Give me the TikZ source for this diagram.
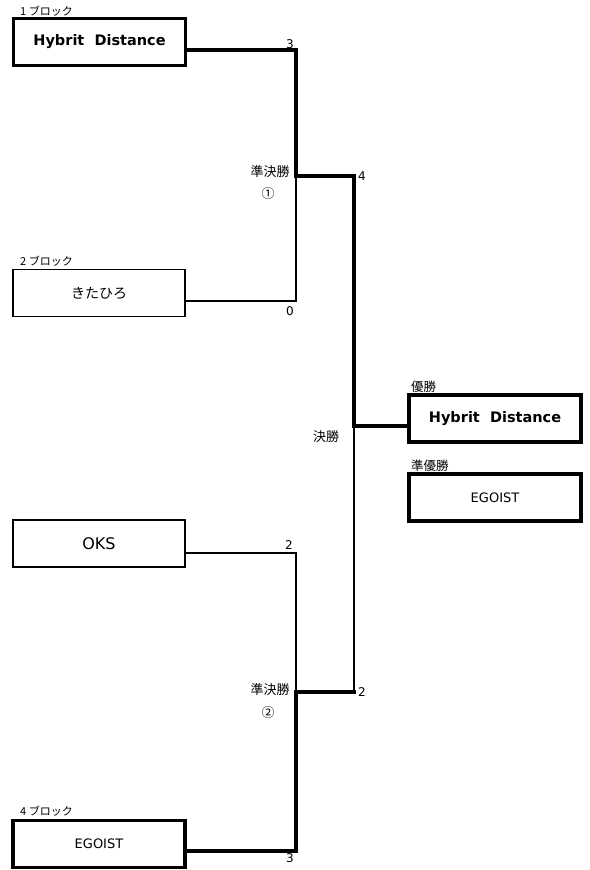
\documentclass[tikz,border=0pt]{standalone}
\usepackage{fontspec}
\setmainfont{DejaVu Sans}
\newfontfamily\jp{Noto Sans CJK JP}
\usetikzlibrary{calc}
\tikzset{
  team/.style={draw, minimum width=172pt, minimum height=47pt, inner sep=0pt, fill=white},
  teamthick/.style={team, line width=3.5pt},
  teamthin/.style={team, line width=1.6pt},
  heavy/.style={line width=3.5pt, line cap=rect},
  light/.style={line width=1.6pt, line cap=rect},
  blocklbl/.style={anchor=south west, inner sep=0pt, font=\jp\fontsize{11}{12}\selectfont},
  roundlbl/.style={inner sep=0pt, font=\jp\fontsize{13}{14}\selectfont},
  score/.style={inner sep=0pt, font=\fontsize{12}{13}\selectfont},
}
\begin{document}
\begin{tikzpicture}[x=1pt,y=-1pt]
\useasboundingbox (0,0) rectangle (589,870);
% junction coordinates
\coordinate (s1) at (296,176);
\coordinate (j1) at (354,176);
\coordinate (f) at (354,426);
\coordinate (s2) at (296,692);
\coordinate (j2) at (354,692);
% teams
\node[teamthick, font=\bfseries\fontsize{14.5}{16}\selectfont] (b1) at (99.5,42) {Hybrit\ \ Distance};
\node[teamthin, font=\jp\fontsize{14}{16}\selectfont] (b2) at (99,293) {きたひろ};
\node[teamthin, font=\fontsize{16}{18}\selectfont] (b3) at (99,543.5) {OKS};
\node[teamthick, font=\fontsize{13}{15}\selectfont] (b4) at (99,844) {EGOIST};
\node[teamthick, font=\bfseries\fontsize{14.5}{16}\selectfont] (win) at (495,418.5) {Hybrit\ \ Distance};
\node[teamthick, font=\fontsize{13}{15}\selectfont] (run) at (495,497.5) {EGOIST};
% block labels
\node[blocklbl] (l1) at (20,17) {1 ブロック};
\node[blocklbl] (l2) at (20,267) {2 ブロック};
\node[blocklbl] (l4) at (20,817) {4 ブロック};
\node[blocklbl, font=\jp\fontsize{12.5}{13}\selectfont] (lw) at (411,393) {優勝};
\node[blocklbl, font=\jp\fontsize{12.5}{13}\selectfont] (lr) at (411,472) {準優勝};
% round labels
\node[roundlbl] (sf1) at (270,172) {準決勝};
\node[roundlbl] (c1) at (268,194) {①};
\node[roundlbl] (sf2) at (270,690) {準決勝};
\node[roundlbl] (c2) at (268,713) {②};
\node[roundlbl] (fin) at (326,437) {決勝};
% scores
\node[score] (p1) at (290,44) {3};
\node[score] (p2) at (290,311) {0};
\node[score] (p3) at (289,545) {2};
\node[score] (p4) at (290,858) {3};
\node[score] (p5) at (362,176) {4};
\node[score] (p6) at (362,692) {2};
% connectors
\draw[light] ($(b2.east)+(0,8)$) -| (s1);
\draw[light] ($(b3.east)+(0,9.5)$) -| (s2);
\draw[light] (f) -- (j2);
\draw[heavy] ($(b1.east)+(0,8)$) -| (s1) -- (j1) -- (f) -- (f -| win.west);
\draw[heavy] ($(b4.east)+(0,7)$) -| (s2) -- (j2);
\end{tikzpicture}
\end{document}
